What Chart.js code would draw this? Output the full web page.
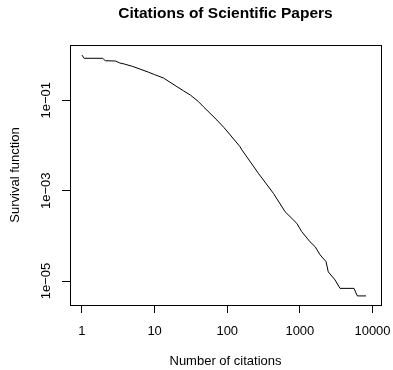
<!doctype html>
<html lang="en">
  <head>
    <meta charset="utf-8">
    <title>Citations of Scientific Papers</title>
    <script src="https://cdn.jsdelivr.net/npm/chart.js@4.4.1/dist/chart.umd.min.js"></script>
    <style>
      html, body { margin: 0; padding: 0; background: #fff; }
      #wrap { width: 393px; height: 370px; }
    </style>
  </head>
  <body>
    <div id="wrap"><canvas id="plot" width="393" height="370"></canvas></div>

  <script>

    // data (number of citations vs P(X >= x))
    let citations = [1, 1.07, 1.92, 2.1, 2.9, 3.3, 3.9, 5, 6.3, 8.2, 10, 13.3, 20.3, 25, 31, 40, 47, 72, 90,
                     110, 150, 160, 268, 432, 625, 906, 1061, 1380, 1618, 1900, 2290, 2460, 3050, 3570,
                     5560, 6180, 8150];
    let survival  = [1, 0.85, 0.85, 0.75, 0.74, 0.67, 0.63, 0.56, 0.49, 0.42, 0.37, 0.31, 0.20, 0.162,
                     0.131, 0.094, 0.072, 0.0366, 0.025, 0.0171, 0.0094, 0.0079, 0.00243, 0.000875,
                     0.000343, 0.00019, 0.000124, 7.4e-5, 5.8e-5, 3.8e-5, 2.7e-5, 1.6e-5, 1.06e-5,
                     6.9e-6, 6.9e-6, 4.7e-6, 4.7e-6];

    let xTicks = [1, 10, 100, 1000, 10000];
    let xTickLabels = ["1", "10", "100", "1000", "10000"];
    let yTicks = [1e-1, 1e-3, 1e-5];
    let yTickLabels = ["1e\u221201", "1e\u221203", "1e\u221205"];

    let font = "'Liberation Sans', Arial, Helvetica, sans-serif";

    // R style box, labels and titles
    const rFrame = {
      id: 'rFrame',
      afterDraw(chart) {
        const { ctx, chartArea: a, scales } = chart;
        ctx.save();
        ctx.strokeStyle = '#000';
        ctx.lineWidth = 1;
        ctx.strokeRect(Math.round(a.left) + 0.5, Math.round(a.top) + 0.5,
                       Math.round(a.right - a.left), Math.round(a.bottom - a.top));

        ctx.fillStyle = '#000';
        ctx.font = '13px ' + font;
        ctx.textAlign = 'center';
        ctx.textBaseline = 'middle';
        xTicks.forEach((v, i) => {
          ctx.fillText(xTickLabels[i], scales.x.getPixelForValue(v), 331);
        });
        yTicks.forEach((v, i) => {
          ctx.save();
          ctx.translate(46, scales.y.getPixelForValue(v));
          ctx.rotate(-Math.PI / 2);
          ctx.fillText(yTickLabels[i], 0, 0);
          ctx.restore();
        });

        ctx.fillText('Number of citations', (a.left + a.right) / 2, 361);
        ctx.save();
        ctx.translate(15, (a.top + a.bottom) / 2);
        ctx.rotate(-Math.PI / 2);
        ctx.fillText('Survival function', 0, 0);
        ctx.restore();

        ctx.font = 'bold 15.5px ' + font;
        ctx.textBaseline = 'alphabetic';
        ctx.fillText('Citations of Scientific Papers', (a.left + a.right) / 2, 18);
        ctx.restore();
      }
    };

    let tickGrid = { drawOnChartArea: false, drawTicks: true, tickLength: 8, color: '#000', lineWidth: 1 };

    var chart = new Chart(document.getElementById('plot').getContext('2d'), {
      type: 'scatter',
      data: {
        datasets: [{
          data: citations.map((c, i) => ({ x: c, y: survival[i] })),
          showLine: true,
          borderColor: '#000',
          borderWidth: 1,
          pointRadius: 0,
          tension: 0,
          fill: false
        }]
      },
      options: {
        responsive: false,
        animation: false,
        events: [],
        layout: { padding: { top: 45, right: 12, left: 0, bottom: 0 } },
        plugins: { legend: { display: false }, tooltip: { enabled: false } },
        scales: {
          x: {
            type: 'logarithmic',
            min: Math.pow(10, -0.165),
            max: Math.pow(10, 4.117),
            afterBuildTicks: s => { s.ticks = xTicks.map(v => ({ value: v })); },
            afterFit: s => { s.height = 65; },
            ticks: { display: false },
            border: { display: false },
            grid: tickGrid
          },
          y: {
            type: 'logarithmic',
            min: Math.pow(10, -5.529),
            max: Math.pow(10, 0.2235),
            afterBuildTicks: s => { s.ticks = yTicks.map(v => ({ value: v })); },
            afterFit: s => { s.width = 70; },
            ticks: { display: false },
            border: { display: false },
            grid: tickGrid
          }
        }
      },
      plugins: [rFrame]
    });

  </script>
  </body>
</html>
